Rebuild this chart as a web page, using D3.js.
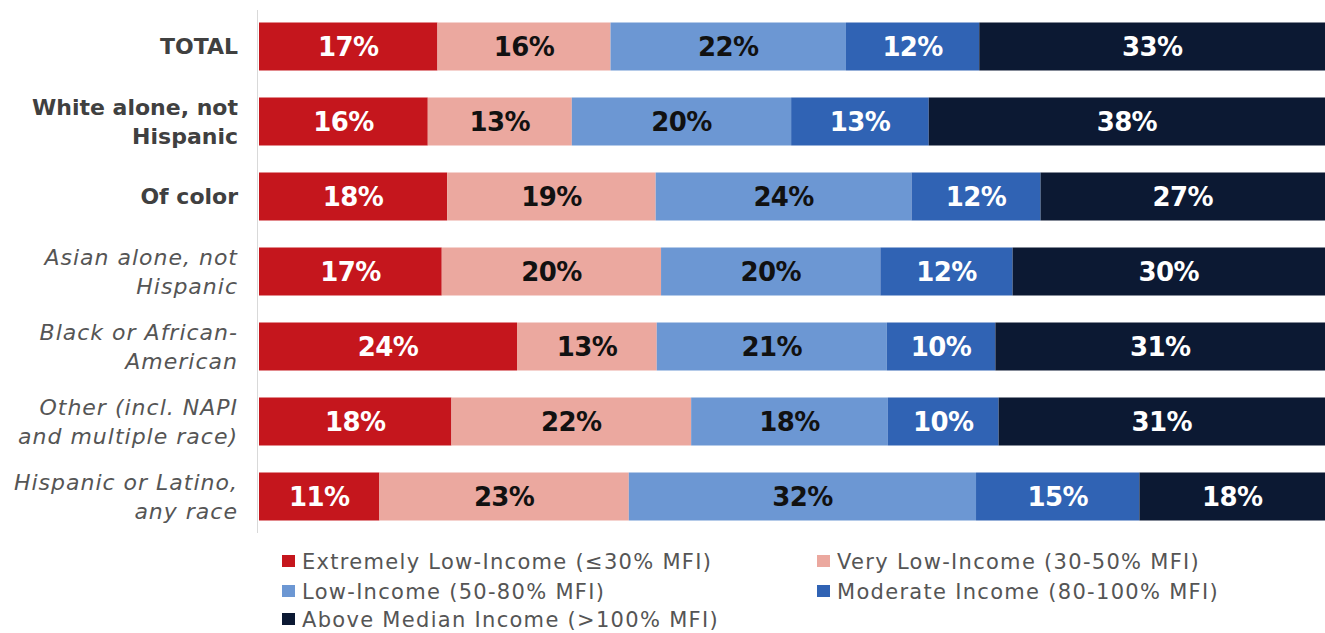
<!DOCTYPE html>
<html>
<head>
<meta charset="utf-8">
<script src="https://cdn.jsdelivr.net/npm/d3@7"></script>
<style>
  body { margin: 0; background: #fff; }
  svg { display: block; font-family: "DejaVu Sans", sans-serif; }
</style>
</head>
<body>
<div id="chart"></div>
<script>
// categories (rows), each label split into lines
const groups = ["TOTAL", "White alone, not Hispanic", "Of color", "Asian alone, not Hispanic",
                "Black or African-American", "Other (incl. NAPI and multiple race)", "Hispanic or Latino, any race"];
const groupLines = [["TOTAL"], ["White alone, not", "Hispanic"], ["Of color"], ["Asian alone, not", "Hispanic"],
                    ["Black or African-", "American"], ["Other (incl. NAPI", "and multiple race)"], ["Hispanic or Latino,", "any race"]];
const groupBold = [true, true, true, false, false, false, false];

// income series
const seriesNames = ["Extremely Low-Income (\u226430% MFI)", "Very Low-Income (30-50% MFI)", "Low-Income (50-80% MFI)",
                     "Moderate Income (80-100% MFI)", "Above Median Income (>100% MFI)"];
const extremelyLow = [16.6, 15.7, 17.5, 17.0, 24.0, 17.9, 11.2];
const veryLow      = [16.1, 13.4, 19.4, 20.4, 13.0, 22.3, 23.2];
const lowIncome    = [21.9, 20.4, 23.8, 20.4, 21.4, 18.3, 32.3];
const moderate     = [12.4, 12.8, 12.0, 12.3, 10.1, 10.3, 15.2];
const aboveMedian  = [33.0, 37.7, 27.2, 29.7, 31.4, 31.3, 18.2];

const colors    = ["#c5161d", "#eba89f", "#6c97d3", "#3063b4", "#0c1933"];
const textColor = ["#fff", "#111", "#111", "#fff", "#fff"];

const W = 1325, H = 633;
const rows = groups.map((g, i) => ({
  group: g,
  s0: extremelyLow[i], s1: veryLow[i], s2: lowIncome[i], s3: moderate[i], s4: aboveMedian[i]
}));
const keys = ["s0", "s1", "s2", "s3", "s4"];
const stacked = d3.stack().keys(keys)(rows);

const x = d3.scaleLinear().domain([0, 100]).range([259, 1334]);
const y = d3.scaleBand().domain(groups).range([9, 534]).paddingInner(0.36).paddingOuter(0.18);

const svg = d3.select("#chart").append("svg").attr("width", W).attr("height", H);

// bars
const layer = svg.selectAll("g.layer").data(stacked).enter().append("g")
  .attr("class", "layer").attr("fill", (d, i) => colors[i]);

layer.selectAll("rect").data(d => d).enter().append("rect")
  .attr("x", d => x(d[0]))
  .attr("y", d => y(d.data.group))
  .attr("width", d => x(d[1]) - x(d[0]))
  .attr("height", y.bandwidth());

// value labels, centred in the visible part of each segment
stacked.forEach((s, si) => {
  svg.append("g").selectAll("text").data(s).enter().append("text")
    .attr("x", d => (x(d[0]) + Math.min(x(d[1]), W)) / 2)
    .attr("y", d => y(d.data.group) + y.bandwidth() / 2)
    .attr("dy", "0.36em")
    .attr("text-anchor", "middle")
    .attr("fill", textColor[si])
    .style("font-size", "26px")
    .style("font-weight", "bold")
    .style("letter-spacing", "-0.6px")
    .text(d => Math.round(d[1] - d[0]) + "%");
});

// axis line
svg.append("line")
  .attr("x1", 257.5).attr("x2", 257.5)
  .attr("y1", 10).attr("y2", 533)
  .attr("stroke", "#d9d9d9").attr("stroke-width", 1);

// category labels
const catG = svg.append("g");
groups.forEach((g, i) => {
  const lines = groupLines[i];
  const cy = y(g) + y.bandwidth() / 2;
  const lh = 29;
  const t = catG.append("text")
    .attr("text-anchor", "end")
    .attr("fill", groupBold[i] ? "#404040" : "#555")
    .style("font-size", "22px")
    .style("font-weight", groupBold[i] ? "bold" : "normal")
    .style("font-style", groupBold[i] ? "normal" : "italic")
    .style("letter-spacing", groupBold[i] ? "0px" : "1px");
  lines.forEach((ln, k) => {
    t.append("tspan")
      .attr("x", 238)
      .attr("y", cy + (k - (lines.length - 1) / 2) * lh)
      .attr("dy", "0.36em")
      .text(ln);
  });
});

// legend
const legX = [282, 817];
const legY = [561, 591, 619];
const legend = svg.append("g");
seriesNames.forEach((name, i) => {
  const col = i % 2, row = Math.floor(i / 2);
  legend.append("rect")
    .attr("x", legX[col]).attr("y", legY[row] - 6)
    .attr("width", 13).attr("height", 12)
    .attr("fill", colors[i]);
  legend.append("text")
    .attr("x", legX[col] + 20).attr("y", legY[row])
    .attr("dy", "0.36em")
    .attr("fill", "#555")
    .style("font-size", "21px")
    .style("letter-spacing", "1.3px")
    .text(name);
});
</script>
</body>
</html>
